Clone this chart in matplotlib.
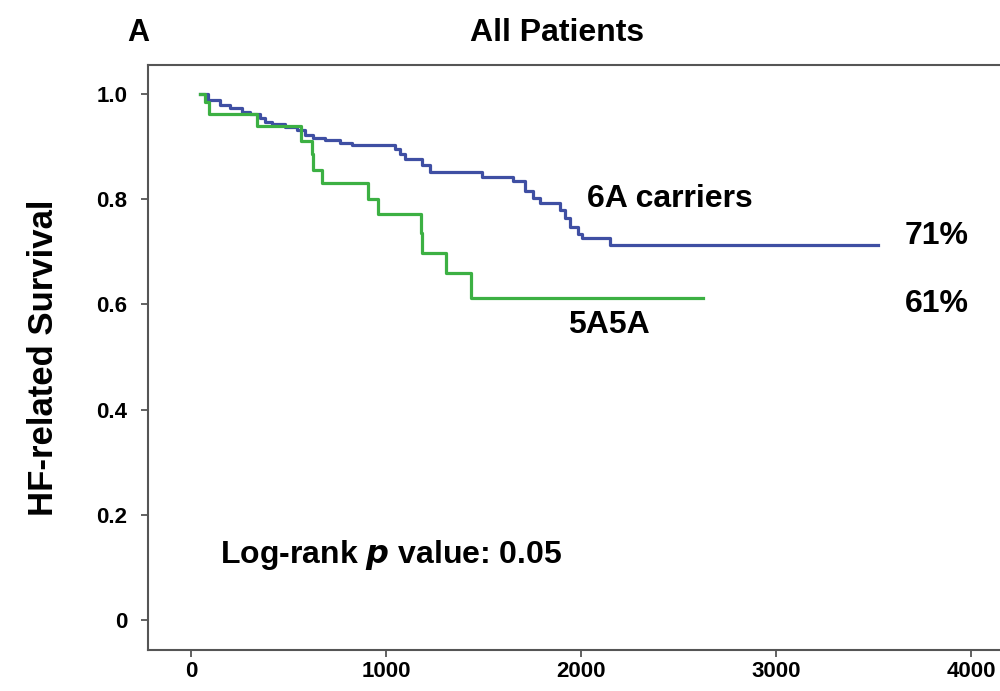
import numpy as np
import matplotlib
matplotlib.use('Agg')
import matplotlib.pyplot as plt

plt.rcParams['font.family'] = ['Liberation Sans', 'DejaVu Sans']
plt.rcParams['font.weight'] = 'bold'

# Kaplan-Meier step points (days, survival)
carriers_t = [46, 89, 149, 200, 260, 303, 354, 379, 414, 482, 542, 585, 627, 687, 764,
              824, 1046, 1072, 1097, 1183, 1226, 1491, 1653, 1713, 1754, 1790, 1892,
              1918, 1944, 1985, 2004, 2149, 3523]
carriers_s = [1.0, 0.989, 0.979, 0.973, 0.966, 0.962, 0.954, 0.947, 0.943, 0.937, 0.932,
              0.922, 0.916, 0.913, 0.907, 0.903, 0.895, 0.885, 0.876, 0.865, 0.852,
              0.843, 0.834, 0.815, 0.802, 0.792, 0.779, 0.764, 0.748, 0.734, 0.726,
              0.713, 0.713]

homo_t = [46, 72, 92, 338, 564, 619, 624, 670, 909, 957, 1178, 1185, 1308, 1436, 2626]
homo_s = [1.0, 0.985, 0.962, 0.939, 0.911, 0.885, 0.856, 0.830, 0.800, 0.772, 0.735,
          0.698, 0.659, 0.612, 0.612]

xticks = [0, 1000, 2000, 3000, 4000]
yticks = [0, 0.2, 0.4, 0.6, 0.8, 1.0]
ytick_labels = ['0', '0.2', '0.4', '0.6', '0.8', '1.0']

fig = plt.figure(figsize=(10, 6.91), dpi=100)
ax = fig.add_axes([0.148, 0.0593, 0.872, 0.8466])

ax.step(carriers_t, carriers_s, where='post', color='#3f4fa3', linewidth=2.3)
ax.step(homo_t, homo_s, where='post', color='#3cb043', linewidth=2.3)

ax.set_xlim(-220, 4251)
ax.set_ylim(-0.057, 1.055)
ax.set_xticks(xticks)
ax.set_xticklabels([str(t) for t in xticks])
ax.set_yticks(yticks)
ax.set_yticklabels(ytick_labels)
ax.tick_params(axis='both', labelsize=16, length=5, width=1.3, color='#555555',
               direction='out')
ax.tick_params(axis='x', pad=3)
ax.tick_params(axis='y', pad=10)
for lab in ax.get_xticklabels() + ax.get_yticklabels():
    lab.set_fontweight('bold')

for side in ['left', 'bottom', 'top']:
    ax.spines[side].set_color('#555555')
    ax.spines[side].set_linewidth(1.5)
ax.spines['right'].set_visible(False)

ax.set_ylabel('HF-related Survival', fontsize=25, fontweight='bold', labelpad=26)

fig.text(0.138, 0.952, 'A', fontsize=22, fontweight='bold', ha='center', va='center')
fig.text(0.557, 0.952, 'All Patients', fontsize=23, fontweight='bold', ha='center',
         va='center')

ax.text(2030, 0.80, '6A carriers', fontsize=23, fontweight='bold', va='center')
ax.text(3662, 0.73, '71%', fontsize=23, fontweight='bold', va='center')
ax.text(3662, 0.60, '61%', fontsize=23, fontweight='bold', va='center')
ax.text(1935, 0.56, '5A5A', fontsize=23, fontweight='bold', va='center')
ax.text(150, 0.123, r'Log-rank $\boldsymbol{p}$ value: 0.05', fontsize=23,
        fontweight='bold', va='center')

fig.savefig('out.png', dpi=100)
